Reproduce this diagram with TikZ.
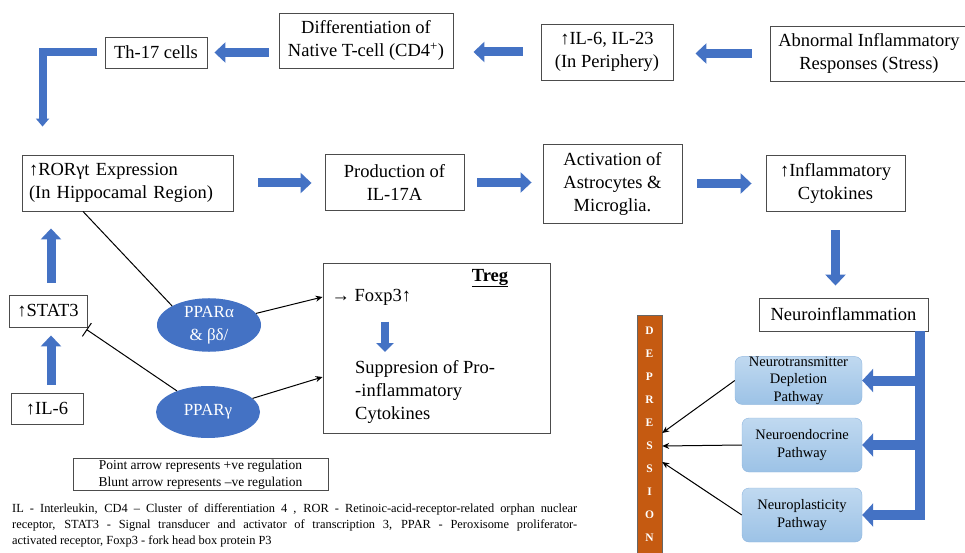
\documentclass[tikz,border=0pt]{standalone}
\usepackage{fontspec}
\setmainfont{Liberation Serif}
\usetikzlibrary{arrows.meta,shapes.geometric}
\definecolor{arrowblue}{RGB}{68,114,196}
\definecolor{deporange}{RGB}{197,90,17}
\definecolor{pathtop}{RGB}{192,217,240}
\definecolor{pathbottom}{RGB}{156,194,230}
\definecolor{pathedge}{RGB}{140,180,222}
\newcommand\boxfont{\fontsize{18.5}{23}\selectfont}
\tikzset{
  box/.style={draw=black!70, line width=0.9pt, align=center, font=\boxfont, inner sep=2pt},
  fat/.style={draw=arrowblue, line width=9pt, -{Triangle[length=11pt,width=20pt]}},
  busline/.style={draw=arrowblue, line width=10pt, -{Triangle[length=11pt,width=23pt]}},
  elbowline/.style={draw=arrowblue, line width=8pt, -{Triangle[length=8pt,width=13pt]}},
  thinarrow/.style={draw=black, line width=1pt, -{Stealth[length=7pt,width=6pt]}},
  bluntline/.style={draw=black, line width=1pt, -{Bar[width=16pt,line width=1pt]}},
  pparnode/.style={ellipse, fill=arrowblue, text=white, minimum width=104pt, minimum height=52pt,
    inner sep=0pt, align=center, font=\fontsize{17}{23}\selectfont},
  pathbox/.style={draw=pathedge, rounded corners=7pt, top color=pathtop, bottom color=pathbottom,
    minimum width=120pt, minimum height=54pt, inner sep=0pt, align=center,
    font=\fontsize{14.5}{17.5}\selectfont}
}
\begin{document}
\begin{tikzpicture}[x=1pt,y=-1pt]
  \useasboundingbox (0,0) rectangle (965,553);
  \node[box, minimum width=198pt, minimum height=55pt] (abn) at (869,53.5) {Abnormal Inflammatory\\Responses (Stress)};
  \node[box, minimum width=132pt, minimum height=56pt] (il) at (607,52) {↑IL-6, IL-23\\(In Periphery)};
  \node[box, minimum width=174pt, minimum height=55pt] (diff) at (366,40.5) {Differentiation of\\Native T-cell (CD4\textsuperscript{+})};
  \node[box, minimum width=102pt, minimum height=31pt] (th) at (156,52.5) {Th-17 cells};
  \node[box, align=left, text width=197pt, minimum width=211pt, minimum height=56pt] (ror) at (127.5,183) {↑RORγt Expression\\(In Hippocamal Region)};
  \node[box, minimum width=139pt, minimum height=56pt] (prod) at (394.5,182.5) {Production of\\IL-17A};
  \node[box, minimum width=139pt, minimum height=79pt] (act) at (612.5,183.5) {Activation of\\Astrocytes \&\\Microglia.};
  \node[box, minimum width=139pt, minimum height=56pt] (infl) at (835.5,183) {↑Inflammatory\\Cytokines};
  \node[box, minimum width=169pt, minimum height=33pt] (neuro) at (843.5,314.5) {Neuroinflammation};
  \node[box, minimum width=78pt, minimum height=32pt] (stat) at (48,311) {↑STAT3};
  \node[box, minimum width=72pt, minimum height=31pt] (il6) at (47,408.5) {↑IL-6};
  \node[box, minimum width=227pt, minimum height=170pt] (treg) at (436.5,348) {};
  \node[font=\boxfont\bfseries] (tregt) at (490,278) {\underline{Treg}};
  \node[font=\boxfont, anchor=west] (foxp) at (328,297) {→ Foxp3↑};
  \node[font=\boxfont, anchor=north west, align=left, inner sep=0pt] (supp) at (355,360) {Suppresion of Pro-\\-inflammatory\\Cytokines};
  \node[pparnode] (ppa) at (209,325) {PPARα\\\& βδ/};
  \node[pparnode] (ppg) at (208,412) {PPARγ};
  \node[pathbox, minimum width=127pt, minimum height=47pt] (p1) at (798.5,380.5) {Neurotransmitter\\Depletion\\Pathway};
  \node[pathbox] (p2) at (802,445) {Neuroendocrine\\Pathway};
  \node[pathbox] (p3) at (802,515) {Neuroplasticity\\Pathway};
  \node[draw=black!60, fill=deporange, text=white, minimum width=25pt, minimum height=238pt, inner sep=0pt,
    align=center, font=\fontsize{11.5}{23}\selectfont\bfseries] (dep) at (649.5,434) {D\\E\\P\\R\\E\\S\\S\\I\\O\\N};
  \node[draw=black!70, line width=0.8pt, minimum width=255pt, minimum height=32pt, inner sep=0pt, align=center,
    font=\fontsize{13.5}{17}\selectfont] (legend) at (200.5,474.5) {Point arrow represents +ve regulation\\Blunt arrow represents –ve regulation};
  \node[anchor=north west, inner sep=0pt, text width=565pt, align=justify, font=\fontsize{12.4}{16}\selectfont] (abbr) at (12,504)
    {IL - Interleukin, CD4 – Cluster of differentiation 4 , ROR - Retinoic-acid-receptor-related orphan nuclear\linebreak
     receptor, STAT3 - Signal transducer and activator of transcription 3, PPAR - Peroxisome proliferator-\linebreak
     activated receptor, Foxp3 - fork head box protein P3};
  \coordinate (bus) at ([xshift=-8pt]neuro.south east);
  \draw[fat, shorten <=18pt, shorten >=22pt] (abn.west) -- (abn.west -| il.east);
  \draw[fat, shorten <=18pt, shorten >=20pt] (il.west) -- (il.west -| diff.east);
  \draw[fat, shorten <=10pt, shorten >=7pt] (diff.west |- th.east) -- (th.east);
  \draw[elbowline, shorten <=8pt] (th.west) -| ([xshift=21pt,yshift=28pt]ror.north west);
  \draw[fat, shorten <=25pt, shorten >=13pt] (ror.east) -- (ror.east -| prod.west);
  \draw[fat, shorten <=13pt, shorten >=11pt] (prod.east) -- (prod.east -| act.west);
  \draw[fat, shorten <=15pt, shorten >=14pt] (act.east) -- (act.east -| infl.west);
  \draw[fat, shorten <=19pt, shorten >=12pt] (infl.south) -- (infl.south |- neuro.north);
  \draw[fat, shorten <=12pt, shorten >=17pt] ([xshift=3pt]stat.north) -- ([xshift=3pt]stat.north |- ror.south);
  \draw[fat, shorten <=8pt, shorten >=8pt] ([xshift=4pt]il6.north) -- ([xshift=4pt]il6.north |- stat.south);
  \draw[fat, line width=8pt, -{Triangle[length=9pt,width=17pt]}, shorten <=13pt, shorten >=8pt] (foxp.south -| 385,0) -- (supp.north -| 385,0);
  \draw[busline] (bus) |- (p3.east);
  \draw[busline] (bus |- p1.east) -- (p1.east);
  \draw[busline] (bus |- p2.east) -- (p2.east);
  \draw[line width=1pt] ([xshift=-44.5pt]ror.south) -- (ppa.north west);
  \draw[thinarrow] (ppa) -- ([yshift=51pt]treg.west);
  \draw[thinarrow] (ppg) -- ([yshift=-29pt]treg.west);
  \draw[bluntline] (ppg) -- ([shift={(-1,2)}]stat.south east);
  \draw[thinarrow] (p1.west) -- ([yshift=1pt]dep.east);
  \draw[thinarrow] (p2.west) -- ([yshift=-12pt]dep.east);
  \draw[thinarrow] (p3.west) -- ([yshift=-28pt]dep.east);
\end{tikzpicture}
\end{document}
